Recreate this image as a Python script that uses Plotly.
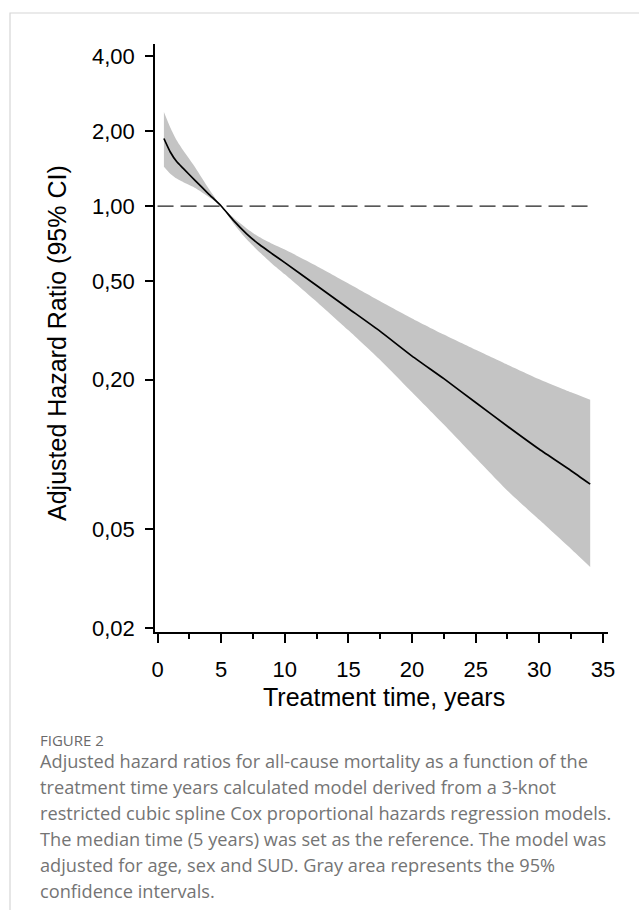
import plotly.graph_objects as go

# ---- data ----
years = [0.5, 1, 1.5, 2, 3, 4, 5, 6, 7, 8, 9, 10, 12.5, 15, 17.5, 20, 22.5, 25, 27.5, 30, 32.5, 34]
hr = [1.87, 1.65, 1.51, 1.42, 1.26, 1.12, 1.00, 0.871, 0.773, 0.700, 0.643, 0.592, 0.479, 0.387, 0.313,
      0.249, 0.202, 0.162, 0.130, 0.105, 0.0861, 0.0760]
ci_upper = [2.39, 2.07, 1.84, 1.68, 1.42, 1.18, 1.00, 0.895, 0.813, 0.750, 0.705, 0.668, 0.574, 0.488,
            0.414, 0.353, 0.304, 0.264, 0.230, 0.201, 0.178, 0.166]
ci_lower = [1.44, 1.35, 1.29, 1.25, 1.18, 1.09, 1.00, 0.847, 0.735, 0.653, 0.586, 0.531, 0.412, 0.316,
            0.240, 0.178, 0.132, 0.097, 0.0715, 0.0546, 0.0417, 0.0353]
ref_x = [0, 34]
ref_y = [1, 1]

y_tickvals = [0.02, 0.05, 0.2, 0.5, 1, 2, 4]
y_ticktext = ["0,02", "0,05", "0,20", "0,50", "1,00", "2,00", "4,00"]
x_tickvals = [0, 5, 10, 15, 20, 25, 30, 35]
x_ticktext = ["0", "5", "10", "15", "20", "25", "30", "35"]

y_title = "Adjusted Hazard Ratio (95% CI)"
x_title = "Treatment time, years"
fig_label = "FIGURE 2"
caption_lines = [
    "Adjusted hazard ratios for all-cause mortality as a function of the",
    "treatment time years calculated model derived from a 3-knot",
    "restricted cubic spline Cox proportional hazards regression models.",
    "The median time (5 years) was set as the reference. The model was",
    "adjusted for age, sex and SUD. Gray area represents the 95%",
    "confidence intervals.",
]

# ---- layout geometry (pixels) ----
W, H = 639, 910
L, R, T, B = 155, 608, 44, 632
pw, ph = R - L, B - T


def px(x):
    return (x - L) / pw


def py(y):
    return (B - y) / ph


FONT = "Arial, Liberation Sans, sans-serif"
CAP_FONT = "Open Sans, sans-serif"

fig = go.Figure()
fig.add_trace(go.Scatter(x=years, y=ci_upper, mode="lines", line=dict(width=0, shape="spline", smoothing=0.5),
                         hoverinfo="skip", showlegend=False))
fig.add_trace(go.Scatter(x=years, y=ci_lower, mode="lines", line=dict(width=0, shape="spline", smoothing=0.5),
                         fill="tonexty", fillcolor="#c4c4c4", hoverinfo="skip", showlegend=False))
fig.add_trace(go.Scatter(x=ref_x, y=ref_y, mode="lines",
                         line=dict(color="#222222", width=1.2, dash="16px,7px"), showlegend=False))
fig.add_trace(go.Scatter(x=years, y=hr, mode="lines",
                         line=dict(color="black", width=1.7, shape="spline", smoothing=0.5), showlegend=False))

fig.update_layout(
    width=W, height=H,
    margin=dict(l=L, r=W - R, t=T, b=H - B, pad=0),
    paper_bgcolor="white", plot_bgcolor="white",
    font=dict(family=FONT, color="black", size=22),
    showlegend=False,
)
fig.update_xaxes(
    range=[-0.2, 35.4], tickvals=x_tickvals, ticktext=x_ticktext,
    showline=True, linecolor="black", linewidth=1.6,
    ticks="outside", ticklen=9, tickwidth=1.5, tickcolor="black",
    minor=dict(dtick=2.5, tick0=0, ticks="outside", ticklen=5, tickwidth=1.5, tickcolor="black", showgrid=False),
    showgrid=False, zeroline=False, tickfont=dict(size=22), ticklabelstandoff=8,
)
fig.update_yaxes(
    type="log", range=[-1.714, 0.652], tickvals=y_tickvals, ticktext=y_ticktext,
    showline=True, linecolor="black", linewidth=1.6,
    ticks="outside", ticklen=8, tickwidth=1.5, tickcolor="black",
    showgrid=False, zeroline=False, tickfont=dict(size=22), ticklabelstandoff=6,
)

annotations = [
    dict(x=px(57), y=py(343), xref="paper", yref="paper", text=y_title, textangle=-90,
         showarrow=False, xanchor="center", yanchor="middle", font=dict(family=FONT, size=25, color="black")),
    dict(x=px(384), y=py(697), xref="paper", yref="paper", text=x_title,
         showarrow=False, xanchor="center", yanchor="middle", font=dict(family=FONT, size=25, color="black")),
    dict(x=px(38), y=py(740), xref="paper", yref="paper", text=fig_label,
         showarrow=False, xanchor="left", yanchor="middle", font=dict(family=CAP_FONT, size=15, color="#6a6a6a")),
]
for i, line in enumerate(caption_lines):
    annotations.append(dict(x=px(38), y=py(761 + 26 * i), xref="paper", yref="paper", text=line,
                            showarrow=False, xanchor="left", yanchor="middle",
                            font=dict(family=CAP_FONT, size=18.2, color="#747474")))
fig.update_layout(annotations=annotations)

# light frame around the figure panel
fig.add_shape(type="rect", xref="paper", yref="paper",
              x0=px(10), x1=px(700), y0=py(1000), y1=py(13),
              line=dict(color="#d6d6d6", width=1.2), fillcolor="rgba(0,0,0,0)", layer="below")

fig.write_html("out.html", config={"displayModeBar": False},
               post_script="document.body.style.margin='0';")
